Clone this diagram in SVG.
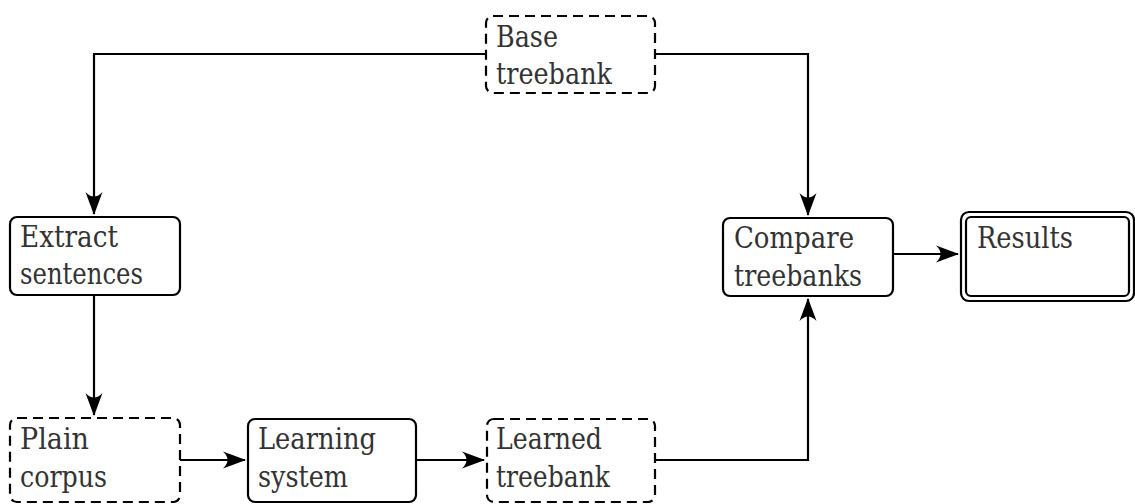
<svg xmlns="http://www.w3.org/2000/svg" width="1135" height="504" viewBox="0 0 1135 504">
<style>
.box{fill:#fff;stroke:#000;stroke-width:2.2}
.dash{stroke-dasharray:10 6}
.c{fill:none;stroke:#000;stroke-width:2.2}
text{font-family:'DejaVu Serif',serif;font-size:30px;fill:#333}
</style>
<defs>
<marker id="ah" markerUnits="userSpaceOnUse" markerWidth="26" markerHeight="20" viewBox="-24 -10 26 20" refX="0" refY="0" orient="auto">
<path d="M1,0 L-22,-8.5 Q-13,0 -22,8.5 Z" fill="#000"/>
</marker>
</defs>
<rect width="1135" height="504" fill="#fff"/>
<g id="connectors">
<path class="c" d="M486,54 H94 V214" marker-end="url(#ah)"/>
<path class="c" d="M655,54 H808 V215" marker-end="url(#ah)"/>
<path class="c" d="M94,295 V415" marker-end="url(#ah)"/>
<path class="c" d="M180,460 H245" marker-end="url(#ah)"/>
<path class="c" d="M416,460 H484" marker-end="url(#ah)"/>
<path class="c" d="M655,460 H808 V299" marker-end="url(#ah)"/>
<path class="c" d="M893,254 H958" marker-end="url(#ah)"/>
</g>
<g id="base">
<rect class="box dash" x="486" y="16" width="169" height="77" rx="7"/>
<text x="496" y="47" textLength="62" lengthAdjust="spacingAndGlyphs">Base</text>
<text x="496" y="84" textLength="116" lengthAdjust="spacingAndGlyphs">treebank</text>
</g>
<g id="extract">
<rect class="box" x="10" y="217" width="170" height="78" rx="7"/>
<text x="20" y="247" textLength="98" lengthAdjust="spacingAndGlyphs">Extract</text>
<text x="20" y="284" textLength="123" lengthAdjust="spacingAndGlyphs">sentences</text>
</g>
<g id="compare">
<rect class="box" x="723" y="218" width="170" height="78" rx="7"/>
<text x="734" y="248" textLength="120" lengthAdjust="spacingAndGlyphs">Compare</text>
<text x="734" y="286" textLength="128" lengthAdjust="spacingAndGlyphs">treebanks</text>
</g>
<g id="results">
<rect class="box" x="961" y="212" width="173" height="89" rx="8"/>
<rect class="box" x="966" y="217" width="163" height="79" rx="5"/>
<text x="977" y="248" textLength="96" lengthAdjust="spacingAndGlyphs">Results</text>
</g>
<g id="plain">
<rect class="box dash" x="10" y="418" width="170" height="84" rx="7"/>
<text x="20" y="449" textLength="69" lengthAdjust="spacingAndGlyphs">Plain</text>
<text x="20" y="487" textLength="87" lengthAdjust="spacingAndGlyphs">corpus</text>
</g>
<g id="learning">
<rect class="box" x="248" y="419" width="168" height="83" rx="7"/>
<text x="258" y="449" textLength="118" lengthAdjust="spacingAndGlyphs">Learning</text>
<text x="258" y="487" textLength="90" lengthAdjust="spacingAndGlyphs">system</text>
</g>
<g id="learned">
<rect class="box dash" x="487" y="419" width="168" height="83" rx="7"/>
<text x="496" y="449" textLength="106" lengthAdjust="spacingAndGlyphs">Learned</text>
<text x="496" y="487" textLength="114" lengthAdjust="spacingAndGlyphs">treebank</text>
</g>
</svg>
